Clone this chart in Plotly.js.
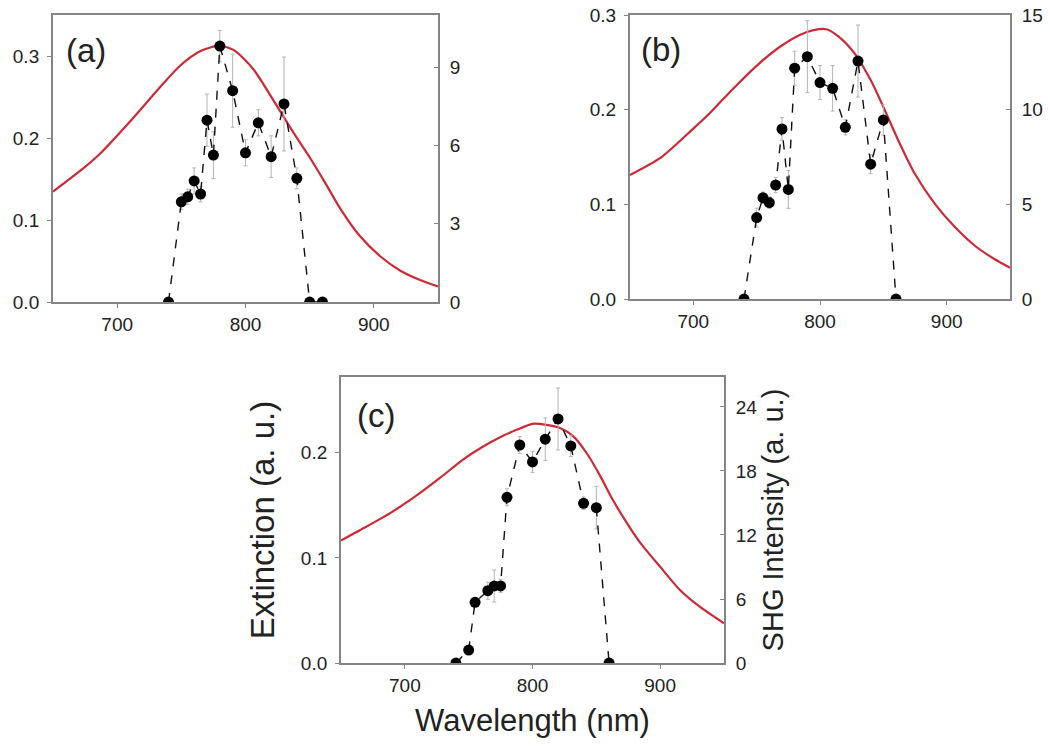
<!DOCTYPE html>
<html>
<head>
<meta charset="utf-8">
<script src="https://cdn.plot.ly/plotly-3.0.1.min.js"></script>
<style>html,body{margin:0;padding:0;background:#fff;}#chart{width:1050px;height:747px;}</style>
</head>
<body>
<div id="chart"></div>
<script>
// ---------- Panel (a) ----------
const extWlA = [650, 674, 687, 713, 733, 749, 765, 780, 791, 806, 824, 837, 850, 862, 874, 889, 905, 921, 936, 950];
const extA   = [0.135, 0.164, 0.182, 0.226, 0.262, 0.289, 0.307, 0.3135, 0.308, 0.285, 0.241, 0.208, 0.177, 0.146, 0.114, 0.081, 0.056, 0.038, 0.027, 0.019];
const shgWlA  = [740, 750, 755, 760, 765, 770, 775, 780, 790, 800, 810, 820, 830, 840, 850, 860];
const shgA    = [0, 3.84, 4.03, 4.64, 4.14, 6.97, 5.63, 9.81, 8.10, 5.72, 6.87, 5.57, 7.59, 4.74, 0, 0];
const shgErrA = [0, 0.3, 0.3, 0.5, 0.3, 1.0, 0.9, 0.6, 1.4, 0.5, 0.5, 0.8, 1.8, 0.4, 0, 0];

// ---------- Panel (b) ----------
const extWlB = [650, 674, 700, 713.5, 732, 753, 769, 784, 795, 805, 814, 827, 840.5, 851, 862, 875, 891, 906.5, 922.5, 938, 950];
const extB   = [0.131, 0.149, 0.180, 0.197, 0.223, 0.250, 0.267, 0.279, 0.284, 0.285, 0.278, 0.260, 0.230, 0.200, 0.167, 0.132, 0.100, 0.076, 0.056, 0.042, 0.033];
const shgWlB  = [740, 750, 755, 760, 765, 770, 775, 780, 790, 800, 810, 820, 830, 840, 850, 860];
const shgB    = [0, 4.30, 5.35, 5.09, 6.02, 8.98, 5.79, 12.19, 12.80, 11.43, 11.13, 9.07, 12.57, 7.12, 9.46, 0];
const shgErrB = [0, 0.5, 0.3, 0.3, 0.4, 0.6, 1.0, 0.9, 1.9, 0.9, 1.2, 0.4, 1.9, 0.5, 0.8, 0];

// ---------- Panel (c) ----------
const extWlC = [650, 670, 688.5, 706.5, 727.5, 745, 760, 775, 788, 800, 811, 821.5, 832, 842.5, 853, 863, 873.5, 884, 900, 915.5, 931, 950];
const extC   = [0.1165, 0.1298, 0.1426, 0.157, 0.176, 0.193, 0.205, 0.215, 0.222, 0.2275, 0.2265, 0.2235, 0.2156, 0.1995, 0.178, 0.155, 0.134, 0.115, 0.0915, 0.0695, 0.0536, 0.0378];
const shgWlC  = [740, 750, 755, 765, 770, 775, 780, 790, 800, 810, 820, 830, 840, 850, 860];
const shgC    = [0, 1.22, 5.69, 6.78, 7.22, 7.22, 15.53, 20.43, 18.84, 20.97, 22.87, 20.34, 14.97, 14.56, 0];
const shgErrC = [0, 0.3, 0.4, 0.8, 1.5, 0.6, 0.8, 0.8, 1.0, 2.0, 2.9, 1.0, 0.6, 2.0, 0];

const panelLabels = ['(a)', '(b)', '(c)'];
const xTitle = 'Wavelength (nm)';
const yLeftTitle = 'Extinction (a. u.)';
const yRightTitle = 'SHG Intensity (a. u.)';

const RED = '#cc2a36';
function extTrace(x, y, xa, ya) {
  return {x: x, y: y, xaxis: xa, yaxis: ya, type: 'scatter', mode: 'lines',
          line: {color: RED, width: 2.2, shape: 'spline', smoothing: 0.7}, hoverinfo: 'x+y'};
}
function shgTrace(x, y, e, xa, ya) {
  return {x: x, y: y, xaxis: xa, yaxis: ya, type: 'scatter', mode: 'lines+markers',
          line: {color: '#111', width: 1.4, dash: 'dash'},
          marker: {color: '#000', size: 11, symbol: 'circle'},
          error_y: {type: 'data', array: e, visible: true, color: '#b4b4b4', thickness: 1, width: 2}};
}

const data = [
  extTrace(extWlA, extA, 'x', 'y'),
  shgTrace(shgWlA, shgA, shgErrA, 'x', 'y2'),
  extTrace(extWlB, extB, 'x2', 'y3'),
  shgTrace(shgWlB, shgB, shgErrB, 'x2', 'y4'),
  extTrace(extWlC, extC, 'x3', 'y5'),
  shgTrace(shgWlC, shgC, shgErrC, 'x3', 'y6')
];

const LINE = '#858585';
const axBase = {showline: true, linecolor: LINE, linewidth: 2, showgrid: false, zeroline: false,
                ticks: 'outside', ticklen: 4, tickcolor: LINE, tickwidth: 1,
                tickfont: {size: 19, color: '#222'}};
function xax(domain, anchor, extra) {
  return Object.assign({}, axBase, {domain: domain, anchor: anchor, range: [650, 950], dtick: 100, tick0: 700, mirror: true}, extra || {});
}
function yl(domain, anchor, range, dtick, extra) {
  return Object.assign({}, axBase, {domain: domain, anchor: anchor, range: range, dtick: dtick, tick0: 0, tickformat: '.1f', ticklabelstandoff: 4}, extra || {});
}
function yr(over, anchor, range, dtick, extra) {
  return Object.assign({}, axBase, {overlaying: over, side: 'right', anchor: anchor, range: range, dtick: dtick, tick0: 0, ticks: 'inside', ticklabelstandoff: 6}, extra || {});
}

const layout = {
  width: 1050, height: 747,
  margin: {l: 0, r: 0, t: 0, b: 0},
  paper_bgcolor: '#fff', plot_bgcolor: '#fff',
  showlegend: false,
  font: {family: 'Arial, "Liberation Sans", sans-serif', size: 19, color: '#222'},
  xaxis:  xax([0.0505, 0.4171], 'y'),
  yaxis:  yl([0.5957, 0.9799], 'x', [0, 0.351], 0.1),
  yaxis2: yr('y', 'x', [0, 11], 3),
  xaxis2: xax([0.600, 0.9619], 'y3'),
  yaxis3: yl([0.5997, 0.9799], 'x2', [0, 0.3], 0.1),
  yaxis4: yr('y3', 'x2', [0, 15], 5),
  xaxis3: xax([0.3248, 0.6895], 'y5', {title: {text: xTitle, font: {size: 31, color: '#222'}, standoff: 14}}),
  yaxis5: yl([0.1124, 0.4953], 'x3', [0, 0.272], 0.1, {title: {text: yLeftTitle, font: {size: 33, color: '#222'}, standoff: 16}}),
  yaxis6: yr('y5', 'x3', [0, 26.8], 6, {title: {text: yRightTitle, font: {size: 29, color: '#222'}, standoff: 4}}),
  annotations: [
    {text: panelLabels[0], xref: 'paper', yref: 'paper', x: 64/1050, y: 1 - 30/747, xanchor: 'left', yanchor: 'top', showarrow: false, font: {size: 33, color: '#222'}},
    {text: panelLabels[1], xref: 'paper', yref: 'paper', x: 639/1050, y: 1 - 29/747, xanchor: 'left', yanchor: 'top', showarrow: false, font: {size: 33, color: '#222'}},
    {text: panelLabels[2], xref: 'paper', yref: 'paper', x: 355/1050, y: 1 - 395/747, xanchor: 'left', yanchor: 'top', showarrow: false, font: {size: 33, color: '#222'}}
  ]
};

Plotly.newPlot('chart', data, layout, {displayModeBar: false, staticPlot: true});
</script>
</body>
</html>
